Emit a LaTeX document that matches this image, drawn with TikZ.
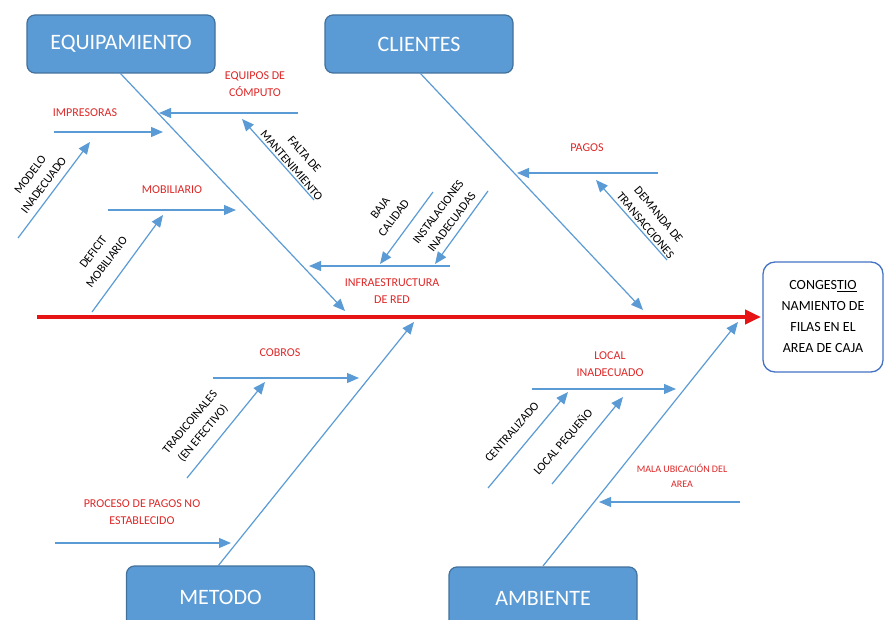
\documentclass[tikz,border=0pt]{standalone}
\usepackage{fontspec}
\setmainfont{Carlito}
\usetikzlibrary{arrows.meta}
\definecolor{boxfill}{RGB}{91,155,213}
\definecolor{boxline}{RGB}{65,113,156}
\definecolor{bonecol}{RGB}{91,155,213}
\definecolor{spinecol}{RGB}{230,20,20}
\definecolor{labcol}{RGB}{222,40,40}
\definecolor{effline}{RGB}{68,114,196}
\begin{document}
\begin{tikzpicture}[x=1pt,y=-1pt,
 catbox/.style={draw=boxline, line width=1.2pt, fill=boxfill, rounded corners=8pt,
   minimum width=188pt, minimum height=58pt, text=white,
   font=\fontsize{22}{26}\selectfont, inner sep=0pt},
 arr/.style={draw=bonecol, line width=1.2pt, -{Triangle[length=12pt,width=10pt]}},
 redlab/.style={text=labcol, font=\fontsize{12}{17}\selectfont, align=center, inner sep=0pt},
 smallred/.style={text=labcol, font=\fontsize{10}{15}\selectfont, align=center, inner sep=0pt},
 blklab/.style={text=black, font=\fontsize{12}{17}\selectfont, align=center, inner sep=0pt},
 efftext/.style={text=black, font=\fontsize{14}{21}\selectfont, align=center, inner sep=0pt},
]
\useasboundingbox (0,0) rectangle (885,620);
\fill[white] (0,0) rectangle (885,620);
\clip (0,0) rectangle (885,620);

% category boxes
\node[catbox] (equip) at (121,44) {EQUIPAMIENTO};
\node[catbox] (clien) at (419,44) {CLIENTES};
\node[catbox, minimum height=62pt] (metod) at (220.5,597) {METODO};
\node[catbox, minimum height=62pt] (ambie) at (543,598) {AMBIENTE};

% effect box
\node[draw=effline, line width=1.3pt, rounded corners=12pt, fill=white,
      minimum width=120pt, minimum height=110pt, inner sep=0pt] (eff) at (823,317) {};
\node[efftext] (efft) at (eff.center) {CONGES\underline{TIO}\\NAMIENTO DE\\FILAS EN EL\\AREA DE CAJA};

% spine
\coordinate (sp0) at (37,317);
\coordinate (sp1) at (761,317);
\draw[draw=spinecol, line width=4pt, -{Triangle[length=16pt,width=14pt]}] (sp0) -- (sp1);

% main bones
\coordinate (eqS) at (120,73);  \coordinate (eqE) at (345,311);
\coordinate (clS) at (420,73);  \coordinate (clE) at (643,310);
\coordinate (meS) at (218,566); \coordinate (meE) at (414,322);
\coordinate (amS) at (543,566); \coordinate (amE) at (738,322);
\draw[arr] (eqS) -- (eqE);
\draw[arr] (clS) -- (clE);
\draw[arr] (meS) -- (meE);
\draw[arr] (amS) -- (amE);

% EQUIPAMIENTO sub-branches
\coordinate (a1s) at (298,113); \coordinate (a1e) at (159,113);
\draw[arr] (a1s) -- (a1e);
\node[redlab] (l1) at (255,84) {EQUIPOS DE\\CÓMPUTO};
\coordinate (a2s) at (314,200); \coordinate (a2e) at (242,119);
\draw[arr] (a2s) -- (a2e);
\node[blklab, rotate=-49] (l2) at (298,160) {FALTA DE\\MANTENIMIENTO};

\coordinate (a3s) at (54,132); \coordinate (a3e) at (163,132);
\draw[arr] (a3s) -- (a3e);
\node[redlab] (l3) at (85,113) {IMPRESORAS};
\coordinate (a4s) at (18,238); \coordinate (a4e) at (90,142);
\draw[arr] (a4s) -- (a4e);
\node[blklab, rotate=53] (l4) at (37,180) {MODELO\\INADECUADO};

\coordinate (a5s) at (108,210); \coordinate (a5e) at (236,210);
\draw[arr] (a5s) -- (a5e);
\node[redlab] (l5) at (172,190) {MOBILIARIO};
\coordinate (a6s) at (92,312); \coordinate (a6e) at (163,215);
\draw[arr] (a6s) -- (a6e);
\node[blklab, rotate=53] (l6) at (100,257) {DEFICIT\\MOBILIARIO};

\coordinate (a7s) at (450,266); \coordinate (a7e) at (309,266);
\draw[arr] (a7s) -- (a7e);
\node[redlab] (l7) at (392,291) {INFRAESTRUCTURA\\DE RED};
\coordinate (a8s) at (433,192); \coordinate (a8e) at (380,264);
\draw[arr] (a8s) -- (a8e);
\node[blklab, rotate=53] (l8) at (387,213) {BAJA\\CALIDAD};
\coordinate (a9s) at (488,191); \coordinate (a9e) at (435,264);
\draw[arr] (a9s) -- (a9e);
\node[blklab, rotate=53] (l9) at (445,217) {INSTALACIONES\\INADECUADAS};

% CLIENTES sub-branches
\coordinate (b1s) at (658,173); \coordinate (b1e) at (517,173);
\draw[arr] (b1s) -- (b1e);
\node[redlab] (m1) at (587,148) {PAGOS};
\coordinate (b2s) at (667,260); \coordinate (b2e) at (596,180);
\draw[arr] (b2s) -- (b2e);
\node[blklab, rotate=-50] (m2) at (652,220) {DEMANDA DE\\TRANSACCIONES};

% METODO sub-branches
\coordinate (c1s) at (213,378); \coordinate (c1e) at (359,378);
\draw[arr] (c1s) -- (c1e);
\node[redlab] (n1) at (280,353) {COBROS};
\coordinate (c2s) at (187,478); \coordinate (c2e) at (265,382);
\draw[arr] (c2s) -- (c2e);
\node[blklab, rotate=50] (n2) at (197,428) {TRADICOINALES\\(EN EFECTIVO)};
\coordinate (c3s) at (55,543); \coordinate (c3e) at (231,543);
\draw[arr] (c3s) -- (c3e);
\node[redlab] (n3) at (142,512) {PROCESO DE PAGOS NO\\ESTABLECIDO};

% AMBIENTE sub-branches
\coordinate (d1s) at (532,389); \coordinate (d1e) at (676,389);
\draw[arr] (d1s) -- (d1e);
\node[redlab] (o1) at (610,364) {LOCAL\\INADECUADO};
\coordinate (d2s) at (488,488); \coordinate (d2e) at (568,392);
\draw[arr] (d2s) -- (d2e);
\node[blklab, rotate=49] (o2) at (512,432) {CENTRALIZADO};
\coordinate (d3s) at (552,484); \coordinate (d3e) at (623,397);
\draw[arr] (d3s) -- (d3e);
\node[blklab, rotate=49] (o3) at (563,442) {LOCAL PEQUEÑO};
\coordinate (d4s) at (740,502); \coordinate (d4e) at (599,502);
\draw[arr] (d4s) -- (d4e);
\node[smallred] (o4) at (682,476) {MALA UBICACIÓN DEL\\AREA};
\end{tikzpicture}
\end{document}
